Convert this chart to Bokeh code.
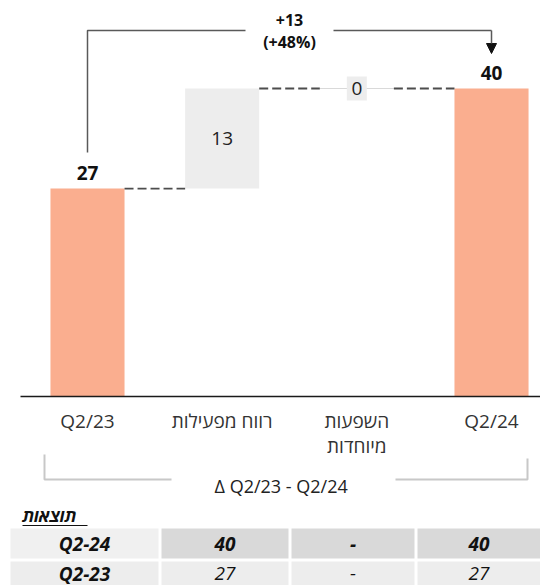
from bokeh.plotting import figure
from bokeh.models import Range1d, Arrow, NormalHead
from bokeh.core.properties import value
from bokeh.embed import file_html
from bokeh.resources import INLINE

# ---------------- data ----------------
categories = ["Q2/23", "רווח מפעילות", "השפעות\nמיוחדות", "Q2/24"]
amounts = [27, 13, 0, 40]
kinds = ["total", "delta", "delta", "total"]

bridge_label = "Δ Q2/23  - Q2/24"
table_title = "תוצאות"
table_row_labels = ["Q2-24", "Q2-23"]
table_q2_24 = ["40", "-", "40"]
table_q2_23 = ["27", "-", "27"]

# ---------------- layout helpers ----------------
W, H = 540, 585
PX_PER_CAT = 134.67
X0_PX = 87          # px of first category centre
BASE_PX = 396       # px (from top) of the zero line
PX_PER_UNIT = 7.7
BAR_W = 0.55
FONT = value("Open Sans")


def X(ix):
    return (ix - X0_PX) / PX_PER_CAT


def Y(iy):
    return (BASE_PX - iy) / PX_PER_UNIT


p = figure(width=W, height=H, x_range=Range1d(X(0), X(W)),
           y_range=Range1d(Y(H), Y(0)), output_backend="svg",
           toolbar_location=None, x_axis_location=None, y_axis_location=None,
           min_border=0, outline_line_color=None)
p.grid.visible = False
p.background_fill_color = "white"

# ---------------- waterfall ----------------
xs = list(range(len(categories)))
bottoms, tops, ends = [], [], []
running = 0
for a, k in zip(amounts, kinds):
    if k == "total":
        bottoms.append(0)
        tops.append(a)
        running = a
    else:
        bottoms.append(running)
        tops.append(running + a)
        running += a
    ends.append(running)

colors = ["#FAAE8F" if k == "total" else "#EDEDED" for k in kinds]
nz = [i for i in xs if tops[i] != bottoms[i]]
p.vbar(x=[xs[i] for i in nz], bottom=[bottoms[i] for i in nz], top=[tops[i] for i in nz],
       width=BAR_W, fill_color=[colors[i] for i in nz], line_color=None)

# zero-height bars: thin line
zr = [i for i in xs if tops[i] == bottoms[i]]
p.segment(x0=[xs[i] - BAR_W / 2 for i in zr], x1=[xs[i] + BAR_W / 2 for i in zr],
          y0=[tops[i] for i in zr], y1=[tops[i] for i in zr], line_color="#D9D9D9", line_width=1)

# connectors
p.segment(x0=[xs[i] + BAR_W / 2 for i in xs[:-1]], x1=[xs[i + 1] - BAR_W / 2 for i in xs[:-1]],
          y0=ends[:-1], y1=ends[:-1], line_color="#4D4D4D", line_width=1.8, line_dash="9 4")

# axis line
p.segment(x0=[X(20)], x1=[X(540)], y0=[0], y1=[0], line_color="#1A1A1A", line_width=1.5)

# total labels
ti = [i for i in xs if kinds[i] == "total"]
p.text(x=[xs[i] for i in ti], y=[tops[i] for i in ti], text=[str(amounts[i]) for i in ti],
       text_align="center", text_baseline="middle", y_offset=-16, text_font=FONT,
       text_font_size="19px", text_font_style="bold", text_color="#111111")

# delta labels
di = [i for i in xs if kinds[i] == "delta" and amounts[i] != 0]
p.text(x=[xs[i] for i in di], y=[(bottoms[i] + tops[i]) / 2 for i in di],
       text=[str(amounts[i]) for i in di], text_align="center", text_baseline="middle",
       text_font=FONT, text_font_size="19px", text_color="#222222")
zi = [i for i in xs if kinds[i] == "delta" and amounts[i] == 0]
p.rect(x=[xs[i] for i in zi], y=[tops[i] for i in zi], width=20, height=24,
       width_units="screen", height_units="screen", fill_color="#EDEDED", line_color=None)
p.text(x=[xs[i] for i in zi], y=[tops[i] for i in zi], text=[str(amounts[i]) for i in zi],
       text_align="center", text_baseline="middle", text_font=FONT, text_font_size="19px",
       text_color="#222222")

# category labels
lx, ly, lt = [], [], []
for i, c in enumerate(categories):
    for k, line in enumerate(c.split("\n")):
        lx.append(xs[i])
        ly.append(Y(420 + 25.5 * k))
        lt.append(line)
p.text(x=lx, y=ly, text=lt, text_align="center", text_baseline="middle", text_font=FONT,
       text_font_size="19px", text_color="#333333")

# ---------------- change annotation on top ----------------
start, end = amounts[0], amounts[-1]
diff = end - start
pct = round(100 * diff / start)
p.line(x=[xs[0], xs[0], X(245)], y=[Y(152), Y(30), Y(30)], line_color="#595959", line_width=1.5)
p.line(x=[X(333), xs[-1]], y=[Y(30), Y(30)], line_color="#595959", line_width=1.5)
p.add_layout(Arrow(end=NormalHead(size=10, fill_color="#111111", line_color="#111111"),
                   x_start=xs[-1], y_start=Y(30), x_end=xs[-1], y_end=Y(53),
                   line_color="#595959", line_width=1.5))
p.text(x=[X(289), X(289)], y=[Y(19), Y(41)], text=[f"+{diff}", f"(+{pct}%)"],
       text_align="center", text_baseline="middle", text_font=FONT, text_font_size="16px",
       text_font_style="bold", text_color="#111111")

# ---------------- bottom bracket ----------------
p.line(x=[X(44), X(44), X(171)], y=[Y(454), Y(479), Y(479)], line_color="#C8C8C8", line_width=2)
p.line(x=[X(395), X(527), X(527)], y=[Y(479), Y(479), Y(458)], line_color="#C8C8C8", line_width=2)
p.text(x=[X(283)], y=[Y(485)], text=[bridge_label], text_align="center", text_baseline="middle",
       text_font=FONT, text_font_size="18px", text_color="#222222")

# ---------------- table ----------------
p.text(x=[X(22)], y=[Y(515)], text=[table_title], text_align="left", text_baseline="middle",
       text_font=FONT, text_font_size="17px", text_font_style="bold italic", text_color="#111111")
p.segment(x0=[X(22)], x1=[X(87)], y0=[Y(525)], y1=[Y(525)], line_color="#111111", line_width=1.2)

col_edges = [(10, 158), (161, 288), (291, 414), (417, 540)]
row_edges = [(528, 558), (561, 592)]
row_text_y = [543, 573]
rows = [[table_row_labels[0]] + table_q2_24, [table_row_labels[1]] + table_q2_23]
fills = [["#F0F0F0", "#D9D9D9", "#D9D9D9", "#D9D9D9"], ["#EDEDED"] * 4]
ql, qr, qt, qb, qc = [], [], [], [], []
tx, ty, tt, ts = [], [], [], []
for r, (t0, t1) in enumerate(row_edges):
    for c, (c0, c1) in enumerate(col_edges):
        ql.append(X(c0)); qr.append(X(c1)); qt.append(Y(t0)); qb.append(Y(t1))
        qc.append(fills[r][c])
        tx.append(X((c0 + c1) / 2)); ty.append(Y(row_text_y[r])); tt.append(rows[r][c])
        ts.append("bold italic" if (r == 0 or c == 0) else "italic")
p.quad(left=ql, right=qr, top=qt, bottom=qb, fill_color=qc, line_color=None)
for style in ("bold italic", "italic"):
    idx = [i for i in range(len(tt)) if ts[i] == style]
    p.text(x=[tx[i] for i in idx], y=[ty[i] for i in idx], text=[tt[i] for i in idx],
           text_align="center", text_baseline="middle", text_font=FONT, text_font_size="19px",
           text_font_style=style, text_color="#111111")

open("out.html", "w").write(file_html(p, INLINE))
